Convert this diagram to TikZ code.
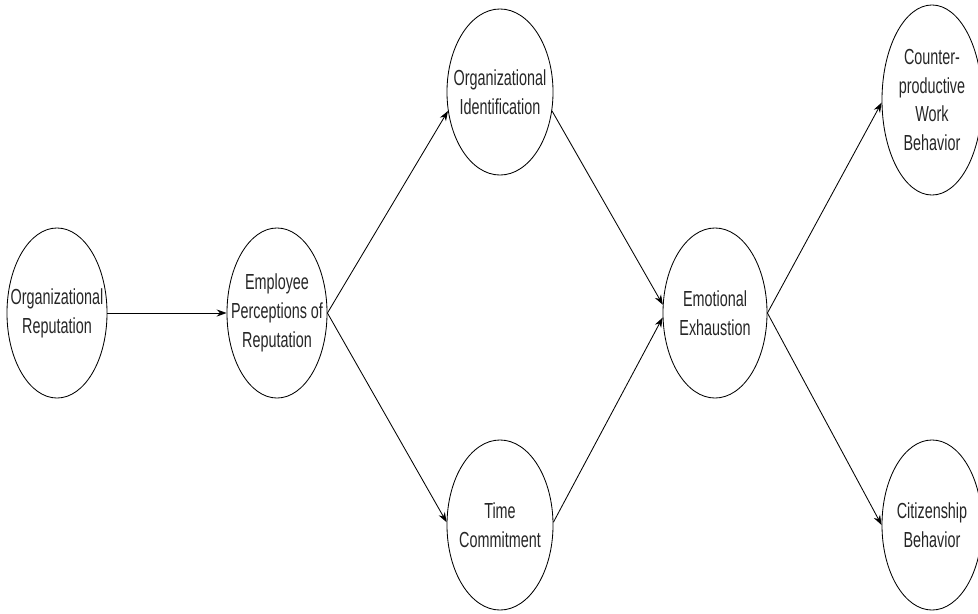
\documentclass[tikz,border=0pt]{standalone}
\usepackage{fontspec}
\setmainfont{Liberation Sans}[FakeStretch=0.66]
\usetikzlibrary{shapes,arrows.meta,positioning}

\begin{document}
\begin{tikzpicture}[
    x=0.025cm, y=-0.025cm,
    construct/.style={draw,ellipse,inner xsep=-14pt,inner ysep=0pt,line width=0.6pt,align=center,
        font=\fontsize{15.5}{20.5}\selectfont,text=black!85,
        minimum width=2.5cm,minimum height=4.25cm},
    link/.style={-{Stealth[length=7pt,width=5pt]},line width=0.6pt},
]
\useasboundingbox (0,0) rectangle (978,613);

% Antecedent
\node[construct] (orgrep) at (57,313) {Organizational\\Reputation};

% Perceived reputation
\node[construct] (emp) at (277,313) {Employee\\Perceptions of\\Reputation};

% Mediators
\node[construct,minimum width=2.65cm,minimum height=4.15cm] (orgid) at (500,92) {Organizational\\Identification};
\node[construct,minimum width=2.65cm] (time) at (500,525) {Time\\Commitment};

% Exhaustion
\node[construct,minimum width=2.6cm] (exh) at (715,313) {Emotional\\Exhaustion};

% Outcomes
\node[construct,minimum height=4.75cm] (cwb) at (932,100) {Counter-\\productive\\Work\\Behavior};
\node[construct] (ocb) at (932,525) {Citizenship\\Behavior};

% Paths
\draw[link] (orgrep.east) -- (emp.west);
\draw[link] (emp.east) -- (orgid.200);
\draw[link] (emp.east) -- (time.177);
\draw[link] (orgid.-20) -- (exh.171);
\draw[link] (time.3) -- (exh.185);
\draw[link] (exh.east) -- (cwb.183);
\draw[link] (exh.east) -- (ocb.west);

\end{tikzpicture}
\end{document}
